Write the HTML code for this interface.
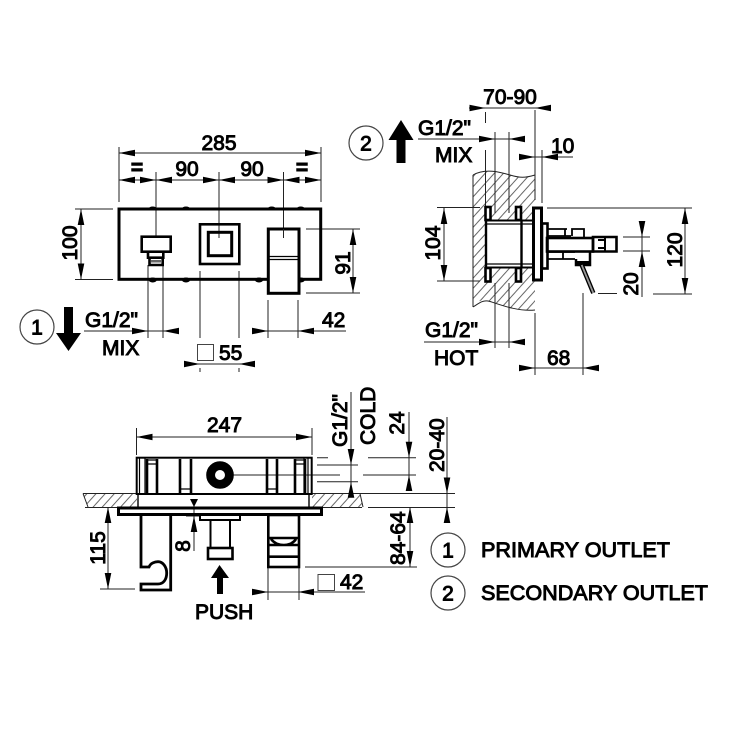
<!DOCTYPE html>
<html><head><meta charset="utf-8"><style>
html,body{margin:0;padding:0;background:#fff;width:750px;height:750px;overflow:hidden}
svg{display:block;filter:blur(.3px)}
text{font-family:"Liberation Sans",Arial,sans-serif;font-size:21px;fill:#000;stroke:#000;stroke-width:.95px}
.t{stroke:#222;stroke-width:1;fill:none}
.m{stroke:#000;stroke-width:2.600;fill:none}
.k{stroke:#000;stroke-width:3;fill:none}
.h{stroke:#444;stroke-width:1;fill:none}
.c{stroke:#444;stroke-width:1.200;fill:#fff}
</style></head><body>
<svg width="750" height="750" viewBox="0 0 750 750" xmlns="http://www.w3.org/2000/svg">
<defs>
<path id="r" d="M0 0L-16-3.300V3.300Z"/>
<path id="l" d="M0 0L16-3.300V3.300Z"/>
<path id="u" d="M0 0L-3.300 16H3.300Z"/>
<path id="d" d="M0 0L-3.300-16H3.300Z"/>
<pattern id="hp" width="6.800" height="6.800" patternUnits="userSpaceOnUse" patternTransform="rotate(-48)">
<rect width="6.800" height="1" y="0" fill="#666"/>
</pattern>
<clipPath id="wall1"><path d="M473 175C485 168 500 172 510 175S525 178 535 175V310C515 312 500 303 488 301S478 304 473 307Z"/></clipPath>
</defs>

<!-- TOP VIEW -->
<g class="t">
<path d="M119 147V202M321 147V202M119 153H321M119 180H321"/>
<path d="M156 172V237M219 172V238M283.500 172V238"/>
<path d="M75 209H113M75 279.500H113M81 209V279.500"/>
<path d="M306 229H360M306 293H360M353 229V293"/>
<path d="M148 265V338M163 265V338M84 331H179"/>
<path d="M268 300V338M298 300V338M252 331H346"/>
<path d="M200 271V338M239 271V338M200 368V372M239 368V372M184 364H255"/>
</g>
<use href="#l" x="119" y="153"/><use href="#r" x="321" y="153"/>
<use href="#l" x="119" y="180"/><use href="#r" x="156" y="180"/><use href="#l" x="156" y="180"/><use href="#r" x="219" y="180"/><use href="#l" x="219" y="180"/><use href="#r" x="283.500" y="180"/><use href="#l" x="283.500" y="180"/><use href="#r" x="321" y="180"/>
<use href="#u" x="81" y="209"/><use href="#d" x="81" y="279.500"/>
<use href="#u" x="353" y="229"/><use href="#d" x="353" y="293"/>
<use href="#r" x="148" y="331"/><use href="#l" x="163" y="331"/>
<use href="#r" x="268" y="331"/><use href="#l" x="298" y="331"/>
<use href="#r" x="200" y="364"/><use href="#l" x="239" y="364"/>

<g fill="#000">
<ellipse cx="152.700" cy="208.500" rx="4" ry="2"/><ellipse cx="186" cy="208.500" rx="4" ry="2"/><ellipse cx="271.700" cy="208.500" rx="4" ry="2"/><ellipse cx="300.700" cy="208.500" rx="4" ry="2"/>
<ellipse cx="152.700" cy="280" rx="4" ry="2.500"/><ellipse cx="186" cy="280" rx="4" ry="2.500"/><ellipse cx="259" cy="280" rx="4" ry="2.500"/><ellipse cx="300.700" cy="280" rx="4" ry="2.500"/>
</g>
<rect x="119" y="209" width="201.700" height="70.300" class="k" fill="none"/>
<rect x="141.700" y="236.700" width="29" height="15" class="m"/>
<path class="m" d="M148 252V257.700H163.300V252M149.500 258V265H162.700V258"/>
<rect x="151" y="260" width="10" height="2.500" fill="#666"/>
<rect x="200" y="224.300" width="39.300" height="39.700" class="m"/>
<rect x="208.300" y="232.300" width="23.400" height="23.400" class="k"/>
<rect x="268.300" y="229" width="30.700" height="64.300" class="k" style="fill:#fff"/>
<path class="t" d="M283.500 229V238"/>
<path class="m" d="M268.300 256.500H299M268.300 259.500H299" style="stroke-width:1.200"/>

<circle cx="37" cy="327" r="17" class="c"/>
<text x="37" y="334.500" text-anchor="middle">1</text>
<path d="M64 307H73V333H81L68.500 351L56 333H64Z"/>
<text x="85" y="327">G1/2"</text>
<text x="102" y="355">MIX</text>
<text x="322" y="327">42</text>
<rect x="197.500" y="344.500" width="16" height="16" class="h"/>
<text x="219" y="360">55</text>
<text x="219" y="150" text-anchor="middle">285</text>
<text x="187" y="176" text-anchor="middle">90</text>
<text x="252" y="176" text-anchor="middle">90</text>
<text x="137" y="174.500" text-anchor="middle" font-weight="bold">=</text>
<text x="302" y="174.500" text-anchor="middle" font-weight="bold">=</text>
<text transform="translate(77,243) rotate(-90)" text-anchor="middle">100</text>
<text transform="translate(350,263) rotate(-90)" text-anchor="middle">91</text>

<!-- SIDE VIEW -->
<rect x="473" y="165" width="62" height="150" fill="url(#hp)" clip-path="url(#wall1)"/>
<path class="t" d="M473 175C485 168 500 172 510 175S525 178 535 175M473 307C478 304 482 300 488 301S515 312 535 310M473 175V307" stroke="#555"/>
<path class="t" d="M469 108H551M485.500 112V123M485.500 150V213M535 110V200M535 313V375"/>
<path class="t" d="M418 139H525M495 132V213M509 132V213M495 283V348M509 283V348"/>
<path class="t" d="M519 157H573M542 150V203"/>
<path class="t" d="M437 207.500H480M437 281H480M444 208V281"/>
<path class="t" d="M547 208H692M653 294H692M685 208V294"/>
<path class="t" d="M623 237H650M623 251H650M598 293.500H617M642 222V297"/>
<path class="t" d="M519 368H598M583 293V375"/>
<path class="t" d="M424 342H525"/>
<use href="#r" x="485.500" y="108"/><use href="#l" x="535" y="108"/>
<use href="#r" x="495" y="139"/><use href="#l" x="509" y="139"/>
<use href="#r" x="535" y="157"/><use href="#l" x="542" y="157"/>
<use href="#u" x="444" y="208"/><use href="#d" x="444" y="281"/>
<use href="#u" x="685" y="208"/><use href="#d" x="685" y="294"/>
<use href="#d" x="642" y="237"/><use href="#u" x="642" y="251"/>
<use href="#r" x="535" y="368"/><use href="#l" x="583" y="368"/>
<use href="#r" x="495" y="342"/><use href="#l" x="509" y="342"/>

<!-- side body -->
<rect x="486" y="220" width="47" height="48" fill="#fff"/>
<path class="m" d="M486 220.500H533M486 267.500H533" style="stroke-width:2"/>
<path class="m" d="M486 224H533M486 264H533" style="stroke-width:1.300"/>
<path class="m" d="M486 220V268M521.500 220V268" style="stroke-width:2.400"/>
<rect x="485.500" y="207" width="5" height="13" class="m" style="fill:#fff"/>
<rect x="516" y="207" width="5" height="13" class="m" style="fill:#fff"/>
<rect x="485.500" y="268" width="5" height="13.500" class="m" style="fill:#fff"/>
<rect x="516" y="268" width="5" height="13.500" class="m" style="fill:#fff"/>
<rect x="533.500" y="208" width="8" height="72" class="k" style="fill:#fff"/>
<rect x="542" y="223.500" width="5.500" height="45" class="m"/>
<path class="m" d="M547.500 229H567M547.500 236H571M547.500 252H575M547.500 259H575" style="stroke-width:1.800"/>
<path class="m" d="M572 236V229H584V238M565 229V236M563 252V259" style="stroke-width:1.800"/>
<rect x="547" y="238" width="46" height="13.500" class="m"/>
<path class="m" d="M576 259V265H590V251.500" style="stroke-width:2.500"/>
<path d="M576 261H590V265H576Z"/>
<path d="M581.700 265L593.300 293" stroke="#000" stroke-width="4.500"/>
<path d="M581.700 265L593.300 293" stroke="#999" stroke-width="1.800"/>
<path class="m" d="M593 237H616.500V251.500H593Z"/>
<path class="m" d="M598 240H606M598 248H606M605 238V251" style="stroke-width:2"/>

<circle cx="366" cy="143" r="17" class="c"/>
<text x="366" y="150.500" text-anchor="middle">2</text>
<path d="M401 120L413.500 140H405.500V163H396.500V140H388.500Z"/>
<text x="418" y="135">G1/2"</text>
<text x="435" y="162">MIX</text>
<text x="551" y="153">10</text>
<text x="510" y="104" text-anchor="middle">70-90</text>
<text x="425" y="337">G1/2"</text>
<text x="434" y="365">HOT</text>
<text x="547" y="365">68</text>
<text transform="translate(440,243) rotate(-90)" text-anchor="middle">104</text>
<text transform="translate(682,250) rotate(-90)" text-anchor="middle">120</text>
<text transform="translate(638,284) rotate(-90)" text-anchor="middle">20</text>

<!-- BOTTOM VIEW -->
<g fill="url(#hp)"><path d="M83 493.500H137V507H88Z"/><path d="M312 493.500H360L363 507H312Z"/></g>
<path class="t" d="M83 493.500H137M85 507.500H118M83 493.500L88 507M312 493.500H455M322 507.500H362M368 507.500H455M360 493.500L363 507"/>
<path class="t" d="M136.500 428V455M312 428V455M137 437H312"/>
<path class="t" d="M233 475H340M363 475H416M317 457.700H328M368 457.700H416M317 465H358M317 481.700H358"/>
<path class="t" d="M351 392V497M409 412V491M447 417V523M410 507V567M305 567H417"/>
<path class="t" d="M108 507V589M100 589H135"/>
<path class="t" d="M194 499V551M186 516H199"/>
<path class="t" d="M268 515V600M299 515V600M253 592H365"/>
<use href="#l" x="136.500" y="437"/><use href="#r" x="312" y="437"/>
<use href="#d" x="351" y="465"/><use href="#u" x="351" y="481.700"/>
<use href="#d" x="409" y="457.700"/><use href="#u" x="409" y="475"/>
<use href="#d" x="447" y="493.500"/><use href="#u" x="447" y="507"/>
<use href="#u" x="410" y="507"/><use href="#d" x="410" y="567"/>
<use href="#u" x="108" y="507"/><use href="#d" x="108" y="589"/>
<path d="M190 499H198L194 507Z"/><use href="#u" x="194" y="516"/>
<use href="#r" x="268" y="592"/><use href="#l" x="298" y="592"/>

<rect x="136.700" y="457.700" width="175" height="36.300" class="m" style="stroke-width:2"/>
<path class="m" d="M139.500 458V494M145 458V494M308 458V494M304 458V494" style="stroke-width:1.200"/>
<path class="m" d="M147 459V493M157 459V493M180 459V493M191 459V493M267 459V493M277 459V493M295 459V493M305 459V493"/>
<path class="m" d="M147 464H157M295 464H305M180 489H191M267 489H277M147 460H157M295 460H305" style="stroke-width:1.300"/>
<circle cx="220" cy="475" r="9.400" stroke="#000" stroke-width="8.800" fill="#fff"/>
<path class="m" d="M138 494V507M309 494V507" style="stroke-width:1.400"/>
<rect x="118.500" y="508" width="203" height="6.500" class="k"/>
<path class="m" d="M141 515V567H149C150.500 563 155 561.700 158 561.700C163 561.700 166.700 567 166.700 573C166.700 580 163 584 158 584H141V590H170.700V515" style="stroke-width:2.800"/>
<path class="m" d="M200 515V520H240V515M210.500 520V548M230 520V548" style="stroke-width:2"/>
<rect x="208" y="548" width="24.500" height="11" class="m"/>
<rect x="268.300" y="515" width="30.700" height="52" class="m"/>
<path class="m" d="M268.300 538H299M271 539C277 547 291 547 296 539M268.300 545H299M268.300 556.700H299"/>
<path d="M219.500 565L229 578H223V594H217V578H211Z"/>
<rect x="318" y="574.500" width="16.500" height="16" class="h"/>
<text x="340" y="589">42</text>
<text x="195" y="619">PUSH</text>
<text x="224.500" y="432" text-anchor="middle">247</text>
<text transform="translate(105,548) rotate(-90)" text-anchor="middle">115</text>
<text transform="translate(190,546) rotate(-90)" text-anchor="middle">8</text>
<text transform="translate(347,447) rotate(-90)">G1/2"</text>
<text transform="translate(375,445) rotate(-90)">COLD</text>
<text transform="translate(404,423) rotate(-90)" text-anchor="middle">24</text>
<text transform="translate(444,472) rotate(-90)">20-40</text>
<text transform="translate(405,565) rotate(-90)">84-64</text>

<!-- LEGEND -->
<circle cx="448" cy="550" r="17" class="c"/>
<text x="448" y="557.500" text-anchor="middle">1</text>
<circle cx="448" cy="593" r="17" class="c"/>
<text x="448" y="600.500" text-anchor="middle">2</text>
<text x="481" y="557" textLength="189" lengthAdjust="spacingAndGlyphs">PRIMARY OUTLET</text>
<text x="481" y="600" textLength="227" lengthAdjust="spacingAndGlyphs">SECONDARY OUTLET</text>
</svg>
</body></html>
